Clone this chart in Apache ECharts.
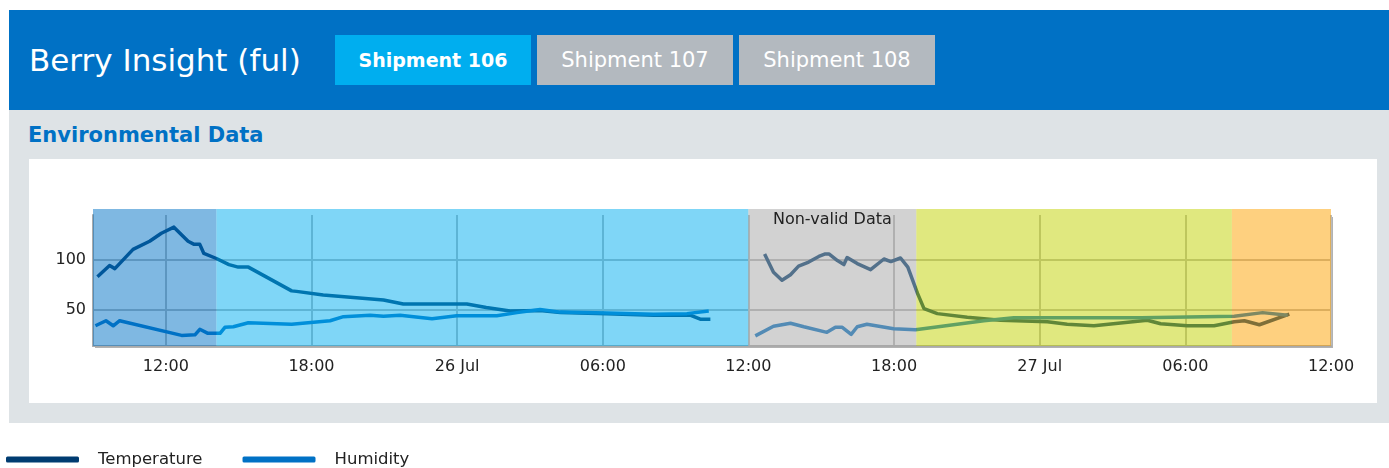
<!DOCTYPE html>
<html>
<head>
<meta charset="utf-8">
<script src="https://cdn.jsdelivr.net/npm/echarts@6/dist/echarts.min.js"></script>
<style>
html,body{margin:0;padding:0;background:#fff;width:1389px;height:468px;overflow:hidden;font-family:"DejaVu Sans",sans-serif;}
#header{position:absolute;left:9px;top:10px;width:1380px;height:100px;background:#0071c5;}
#title{position:absolute;left:20px;top:0;height:100px;line-height:100px;color:#fff;font-size:31px;white-space:nowrap;}
.tab{position:absolute;top:25px;width:196px;height:50px;line-height:50px;text-align:center;color:#fff;font-size:21px;background:#b3b9bf;white-space:nowrap;}
.tab.active{background:#00aeef;font-weight:bold;font-size:19px;}
#panel{position:absolute;left:9px;top:110px;width:1380px;height:313px;background:#dee3e6;}
#section{position:absolute;left:19px;top:12px;font-size:21px;line-height:26px;font-weight:bold;color:#0071c5;white-space:nowrap;}
#card{position:absolute;left:20px;top:49px;width:1348px;height:244px;background:#fff;}
#chart{position:absolute;left:0;top:0;width:1389px;height:468px;}
</style>
</head>
<body>
<div id="header">
  <div id="title">Berry Insight (ful)</div>
  <div class="tab active" style="left:326px;">Shipment 106</div>
  <div class="tab" style="left:528px;">Shipment 107</div>
  <div class="tab" style="left:730px;">Shipment 108</div>
</div>
<div id="panel">
  <div id="section">Environmental Data</div>
  <div id="card"></div>
</div>
<div id="chart"></div>
<script>
// ---- data ----
const tempTimes = [
  '2019-07-25 09:11','2019-07-25 09:41','2019-07-25 09:54','2019-07-25 10:39','2019-07-25 11:20',
  '2019-07-25 11:49','2019-07-25 12:20','2019-07-25 12:55','2019-07-25 13:10','2019-07-25 13:24',
  '2019-07-25 13:34','2019-07-25 14:05','2019-07-25 14:36','2019-07-25 14:59','2019-07-25 15:24',
  '2019-07-25 17:11','2019-07-25 17:23','2019-07-25 18:29','2019-07-25 20:58','2019-07-25 21:47',
  '2019-07-25 22:54','2019-07-26 00:24','2019-07-26 01:12','2019-07-26 02:11','2019-07-26 03:25',
  '2019-07-26 04:15','2019-07-26 06:10','2019-07-26 08:06','2019-07-26 09:36','2019-07-26 10:01',
  '2019-07-26 10:26','2019-07-26 11:30',
  '2019-07-26 12:40','2019-07-26 13:02','2019-07-26 13:23','2019-07-26 13:44','2019-07-26 14:04',
  '2019-07-26 14:29','2019-07-26 14:54','2019-07-26 15:10','2019-07-26 15:19','2019-07-26 15:40',
  '2019-07-26 15:56','2019-07-26 16:04','2019-07-26 16:29','2019-07-26 17:02','2019-07-26 17:35',
  '2019-07-26 17:52','2019-07-26 18:16','2019-07-26 18:34','2019-07-26 18:58','2019-07-26 19:14',
  '2019-07-26 19:47','2019-07-26 21:01','2019-07-26 22:23','2019-07-27 00:19','2019-07-27 01:08',
  '2019-07-27 02:14','2019-07-27 04:26','2019-07-27 04:59','2019-07-27 06:05','2019-07-27 07:11',
  '2019-07-27 08:01','2019-07-27 08:26','2019-07-27 09:03','2019-07-27 10:17'
];
const tempValues = [
  83, 94, 91, 110, 118,
  126, 132, 118, 115, 115,
  106, 101, 95, 92.5, 92.5,
  69, 68.5, 65, 60, 56,
  56, 56, 52.5, 49, 49.5,
  47.5, 46.5, 45, 45, 41,
  41, null,
  105.5, 87.5, 79.5, 85, 93.5,
  97.5, 103, 105.5, 105.5, 99,
  95, 102, 96, 90, 100.5,
  98, 101.5, 92.5, 66.5, 51.5,
  46.5, 43, 40, 38.5, 36,
  34.5, 40, 36.5, 34.5, 34.5,
  38.5, 39.5, 35.5, 46
];
const humTimes = [
  '2019-07-25 09:06','2019-07-25 09:32','2019-07-25 09:50','2019-07-25 10:06','2019-07-25 12:39',
  '2019-07-25 13:12','2019-07-25 13:24','2019-07-25 13:44','2019-07-25 14:14','2019-07-25 14:26',
  '2019-07-25 14:47','2019-07-25 15:24','2019-07-25 17:11','2019-07-25 18:46','2019-07-25 19:19',
  '2019-07-25 20:25','2019-07-25 20:58','2019-07-25 21:39','2019-07-25 22:58','2019-07-25 23:59',
  '2019-07-26 01:38','2019-07-26 02:28','2019-07-26 03:25','2019-07-26 04:15','2019-07-26 06:10',
  '2019-07-26 08:06','2019-07-26 09:28','2019-07-26 10:22','2019-07-26 11:30',
  '2019-07-26 12:17','2019-07-26 13:02','2019-07-26 13:44','2019-07-26 14:17','2019-07-26 15:14',
  '2019-07-26 15:35','2019-07-26 15:52','2019-07-26 16:14','2019-07-26 16:29','2019-07-26 16:53',
  '2019-07-26 17:59','2019-07-26 18:53','2019-07-26 21:42','2019-07-26 22:56','2019-07-27 01:17',
  '2019-07-27 04:10','2019-07-27 08:01','2019-07-27 09:11','2019-07-27 10:13'
];
const humValues = [
  34.5, 39.5, 34.5, 39.5, 25,
  25.5, 31, 27, 27, 33,
  33.5, 37.5, 36, 39.5, 43.5,
  45, 44, 45, 41.5, 44.5,
  44.5, 47.5, 50.5, 48, 47,
  46, 46.5, 49, null,
  24.5, 34, 37, 33.5, 28,
  33, 33, 26, 33.5, 36,
  31.5, 30.5, 39.5, 42.5, 42.5,
  42.5, 44, 47.5, 45
];
const xTickTimes = ['2019-07-25 12:00','2019-07-25 18:00','2019-07-26 00:00','2019-07-26 06:00',
  '2019-07-26 12:00','2019-07-26 18:00','2019-07-27 00:00','2019-07-27 06:00','2019-07-27 12:00'];
const xTickLabels = ['12:00','18:00','26 Jul','06:00','12:00','18:00','27 Jul','06:00','12:00'];
const yTickValues = [50, 100];
const bandStarts = ['2019-07-25 09:00','2019-07-25 14:05','2019-07-26 12:00','2019-07-26 18:55','2019-07-27 07:55'];
const bandEnds   = ['2019-07-25 14:05','2019-07-26 12:00','2019-07-26 18:55','2019-07-27 07:55','2019-07-27 12:00'];
const bandLabels = ['', '', 'Non-valid Data', '', ''];
const bandColors = ['rgba(0,113,197,0.5)','rgba(0,174,239,0.5)','rgba(166,166,166,0.5)','rgba(194,210,0,0.5)','rgba(253,162,0,0.5)'];
const seriesNames = ['Temperature', 'Humidity'];
const seriesColors = ['#003c71', '#0071c5'];

// ---- helpers ----
function ts(s) { return new Date(s.replace(' ', 'T')).getTime(); }
const xMin = ts('2019-07-25 09:00'), xMax = ts('2019-07-27 12:00');
const yMin = 14.5, yMax = 144, bandTop = 150;
const xTickValues = xTickTimes.map(ts);
const FONT = '"DejaVu Sans", sans-serif';

const chart = echarts.init(document.getElementById('chart'), null, {renderer: 'canvas'});
chart.setOption({
  animation: false,
  backgroundColor: 'transparent',
  legend: {
    left: 6, top: 451, padding: 0, icon: 'roundRect', itemWidth: 73, itemHeight: 6, itemGap: 40,
    selectedMode: false,
    textStyle: {fontSize: 16.5, color: '#222', fontFamily: FONT, padding: [0, 0, 0, 14]},
    data: seriesNames
  },
  grid: {
    left: 93, right: 58, top: 215, bottom: 122, containLabel: false, outerBoundsMode: 'none',
    show: true, borderWidth: 0, backgroundColor: '#fff',
    shadowColor: 'rgba(0,0,0,0.3)', shadowOffsetX: 2, shadowOffsetY: 2, shadowBlur: 0
  },
  xAxis: {
    type: 'value', min: xMin, max: xMax, scale: true,
    axisLine: {show: true, lineStyle: {color: '#aaa', width: 2}},
    axisTick: {show: false, customValues: xTickValues},
    axisLabel: {
      customValues: xTickValues, color: '#222', fontSize: 16, fontFamily: FONT, margin: 13,
      showMinLabel: true, showMaxLabel: true, hideOverlap: false,
      formatter: function (v) {
        let best = 0;
        xTickValues.forEach((t, i) => { if (Math.abs(t - v) < Math.abs(xTickValues[best] - v)) best = i; });
        return xTickLabels[best];
      }
    },
    splitLine: {show: true, lineStyle: {color: '#bbb', width: 2}}
  },
  yAxis: {
    type: 'value', min: yMin, max: yMax,
    axisLine: {show: true, lineStyle: {color: '#aaa', width: 2}},
    axisTick: {show: false, customValues: yTickValues},
    axisLabel: {customValues: yTickValues, color: '#222', fontSize: 16, fontFamily: FONT, margin: 7},
    splitLine: {show: true, lineStyle: {color: '#bbb', width: 2}}
  },
  series: [
    {
      name: seriesNames[0], type: 'line', z: 2, symbol: 'none', showSymbol: false, connectNulls: false,
      data: tempTimes.map((t, i) => [ts(t), tempValues[i]]),
      lineStyle: {width: 3.5, color: seriesColors[0], join: 'round'}, itemStyle: {color: seriesColors[0]}
    },
    {
      name: seriesNames[1], type: 'line', z: 2, symbol: 'none', showSymbol: false, connectNulls: false,
      data: humTimes.map((t, i) => [ts(t), humValues[i]]),
      lineStyle: {width: 3.5, color: seriesColors[1], join: 'round'}, itemStyle: {color: seriesColors[1]}
    },
    {
      type: 'custom', z: 10, silent: true, clip: false,
      data: bandStarts.map((s, i) => [ts(s), ts(bandEnds[i]), i]),
      encode: {x: [0, 1]},
      renderItem: function (params, api) {
        const i = api.value(2);
        const p0 = api.coord([api.value(0), bandTop]);
        const p1 = api.coord([api.value(1), yMin]);
        const children = [{
          type: 'rect',
          shape: {x: p0[0], y: p0[1], width: p1[0] - p0[0], height: p1[1] - p0[1]},
          style: {fill: bandColors[i]}
        }];
        if (bandLabels[i]) {
          children.push({
            type: 'text', x: (p0[0] + p1[0]) / 2, y: p0[1] + 3,
            style: {text: bandLabels[i], align: 'center', verticalAlign: 'top', fill: '#222', font: '16px ' + FONT}
          });
        }
        return {type: 'group', children: children};
      }
    }
  ]
});
</script>
</body>
</html>
